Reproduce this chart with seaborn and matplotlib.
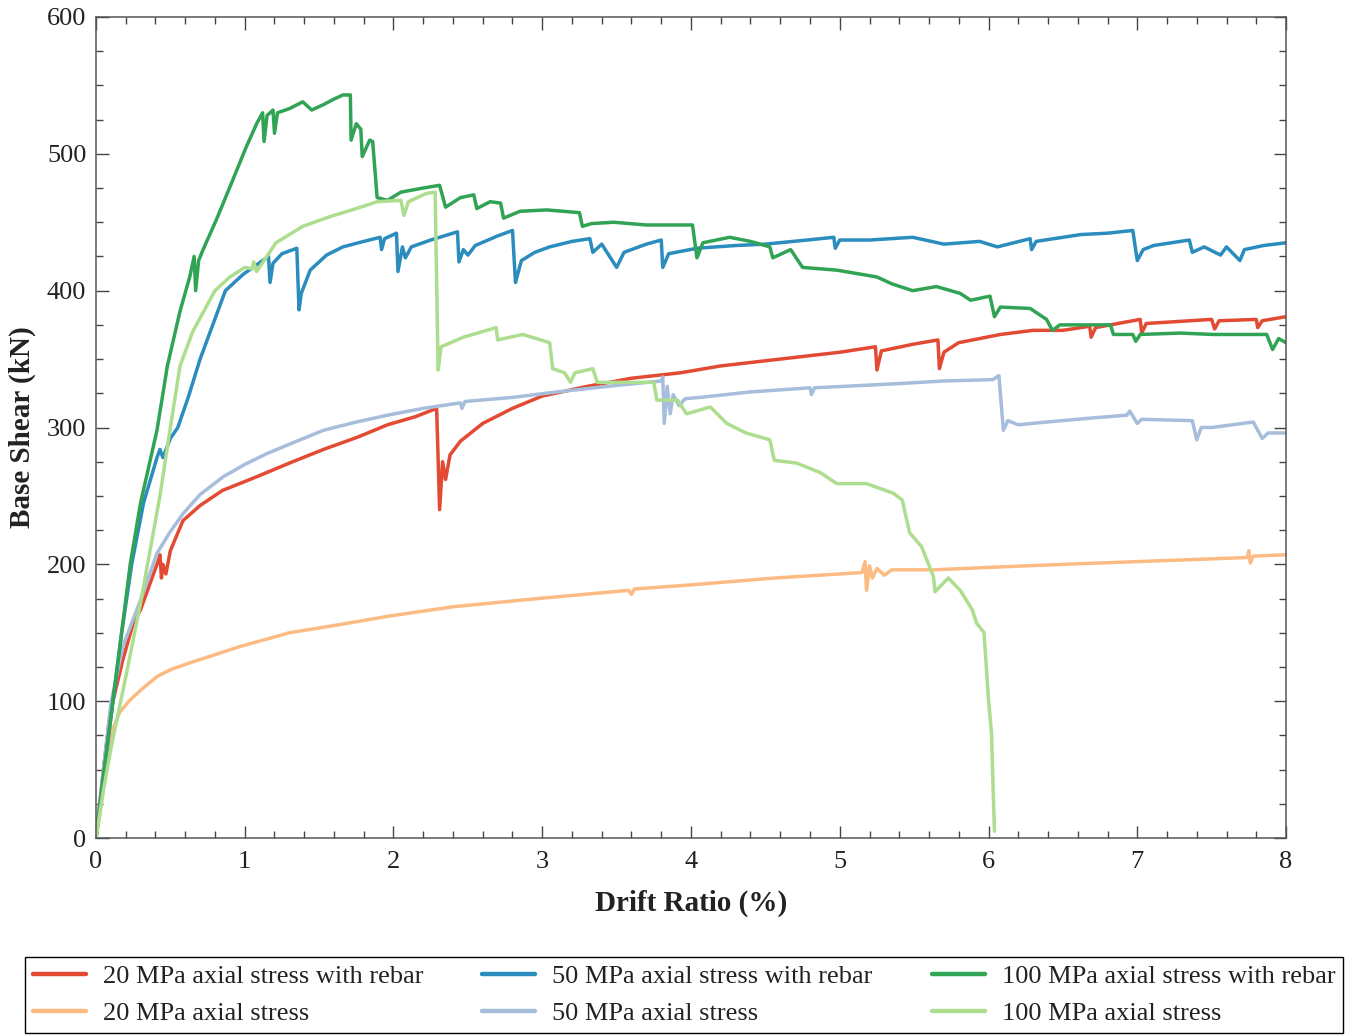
import numpy as np
import pandas as pd
import matplotlib
matplotlib.use("Agg")
import matplotlib.pyplot as plt
import seaborn as sns
from matplotlib.lines import Line2D

# ----------------------------
# Data (drift ratio %, base shear kN)
# ----------------------------
labels = ['20 MPa axial stress with rebar', '20 MPa axial stress',
          '50 MPa axial stress with rebar', '50 MPa axial stress',
          '100 MPa axial stress with rebar', '100 MPa axial stress']
colors = ['#e34a33', '#fdbb84', '#2b8cbe', '#a6bddb', '#31a354', '#addd8e']

drift_20r = [0, 0.05, 0.094, 0.18, 0.25, 0.3, 0.36, 0.42, 0.43, 0.44, 0.45, 0.47, 0.5, 0.585,
             0.7, 0.85, 1.08, 1.3, 1.53, 1.76, 1.96, 2.15, 2.29, 2.31, 2.33, 2.35, 2.38, 2.45,
             2.6, 2.8, 3.0, 3.3, 3.6, 3.93, 4.2, 4.6, 5.0, 5.24, 5.25, 5.28, 5.5, 5.66, 5.67,
             5.7, 5.8, 6.08, 6.3, 6.5, 6.68, 6.69, 6.72, 7.02, 7.03, 7.06, 7.5, 7.52, 7.55,
             7.8, 7.81, 7.84, 8.0]
shear_20r = [0, 50, 91, 130, 157, 167, 185, 203, 207, 190, 200, 193, 210, 232,
             243, 254, 264, 274, 284, 293, 302, 308, 314, 240, 275, 262, 280, 290,
             303, 314, 323, 330, 336, 340, 345, 350, 355, 359, 342, 356, 361, 364, 343,
             355, 362, 368, 371, 371, 374, 366, 373, 379, 369, 376, 379, 372, 378,
             379, 373, 378, 381]

drift_20 = [0, 0.027, 0.06, 0.11, 0.16, 0.23, 0.3, 0.41, 0.5, 0.63, 0.8, 0.97, 1.3, 1.64,
            1.96, 2.4, 2.97, 3.58, 3.6, 3.62, 4.0, 4.56, 5.15, 5.17, 5.18, 5.2, 5.22, 5.25,
            5.3, 5.35, 5.63, 6.05, 6.5, 7.0, 7.5, 7.74, 7.75, 7.76, 7.78, 8.0]
shear_20 = [0, 18, 45, 79, 92, 101, 108, 118, 123, 128, 134, 140, 150, 156,
            162, 169, 175, 181, 178, 182, 185, 190, 194, 202, 181, 199, 190, 197,
            192, 196, 196, 198, 200, 202, 204, 205, 210, 201, 206, 207]

drift_50r = [0, 0.05, 0.1, 0.17, 0.24, 0.32, 0.41, 0.43, 0.45, 0.5, 0.55, 0.62, 0.7, 0.87,
             0.99, 1.16, 1.17, 1.19, 1.25, 1.35, 1.365, 1.38, 1.44, 1.55, 1.66, 1.8, 1.91,
             1.92, 1.94, 2.02, 2.03, 2.06, 2.08, 2.12, 2.25, 2.43, 2.44, 2.47, 2.5, 2.55,
             2.7, 2.8, 2.82, 2.86, 2.95, 3.05, 3.2, 3.32, 3.34, 3.4, 3.5, 3.55, 3.7, 3.8,
             3.81, 3.85, 4.04, 4.3, 4.5, 4.78, 4.96, 4.97, 5.0, 5.2, 5.49, 5.7, 5.94, 6.06,
             6.28, 6.29, 6.32, 6.62, 6.8, 6.97, 7.0, 7.04, 7.11, 7.35, 7.37, 7.45, 7.56,
             7.6, 7.69, 7.72, 7.85, 8.0]
shear_50r = [0, 45, 88, 148, 200, 245, 278, 284, 278, 292, 300, 322, 350, 400,
             412, 425, 406, 420, 427, 431, 386, 398, 415, 426, 432, 436, 439,
             430, 438, 442, 414, 432, 424, 432, 437, 443, 421, 430, 426, 433,
             440, 444, 406, 422, 428, 432, 436, 438, 428, 434, 417, 428, 434, 437,
             417, 427, 431, 433, 434, 437, 439, 431, 437, 437, 439, 434, 436, 432,
             438, 430, 436, 441, 442, 444, 422, 430, 433, 437, 428, 432, 426,
             432, 422, 430, 433, 435]

drift_50 = [0, 0.05, 0.1, 0.18, 0.3, 0.41, 0.5, 0.585, 0.7, 0.855, 1.0, 1.15, 1.35, 1.53,
            1.75, 1.96, 2.2, 2.45, 2.46, 2.48, 2.8, 3.1, 3.52, 3.8, 3.81, 3.82, 3.84, 3.86,
            3.88, 3.92, 3.96, 4.06, 4.4, 4.8, 4.81, 4.83, 5.38, 5.7, 6.03, 6.07, 6.1, 6.13,
            6.2, 6.39, 6.7, 6.93, 6.95, 7.0, 7.03, 7.37, 7.4, 7.43, 7.5, 7.78, 7.84, 7.88, 8.0]
shear_50 = [0, 50, 98, 140, 174, 208, 224, 237, 251, 264, 273, 281, 290, 298,
            304, 309, 314, 318, 314, 319, 322, 326, 331, 334, 337, 303, 330, 310,
            324, 316, 321, 322, 326, 329, 324, 329, 332, 334, 335, 338, 298, 305,
            302, 304, 307, 309, 312, 303, 306, 305, 291, 300, 300, 304, 292, 296, 296]

drift_100r = [0, 0.05, 0.1, 0.17, 0.23, 0.3, 0.41, 0.48, 0.565, 0.63, 0.66, 0.67, 0.69, 0.72,
              0.81, 0.92, 1.01, 1.08, 1.12, 1.13, 1.15, 1.19, 1.2, 1.22, 1.3, 1.39, 1.45,
              1.53, 1.6, 1.66, 1.71, 1.715, 1.75, 1.78, 1.79, 1.84, 1.86, 1.89, 1.96, 2.05,
              2.2, 2.31, 2.35, 2.45, 2.54, 2.56, 2.65, 2.72, 2.74, 2.85, 3.03, 3.25, 3.27,
              3.33, 3.48, 3.7, 4.01, 4.04, 4.08, 4.26, 4.4, 4.53, 4.55, 4.67, 4.75, 4.98,
              5.25, 5.35, 5.49, 5.65, 5.81, 5.88, 6.01, 6.04, 6.08, 6.28, 6.39, 6.43, 6.48,
              6.82, 6.84, 6.97, 6.99, 7.02, 7.29, 7.51, 7.87, 7.91, 7.95, 8.0]
shear_100r = [0, 45, 88, 148, 200, 245, 298, 345, 385, 410, 425, 400, 422, 430,
              452, 481, 505, 522, 530, 509, 528, 532, 515, 530, 533, 538, 532,
              536, 540, 543, 543, 510, 522, 518, 498, 510, 509, 468, 466, 472,
              475, 477, 461, 468, 470, 460, 465, 464, 453, 458, 459, 457, 447,
              449, 450, 448, 448, 424, 435, 439, 436, 432, 424, 430, 417, 415,
              410, 405, 400, 403, 398, 393, 396, 381, 388, 387, 379, 371, 375,
              375, 368, 368, 363, 368, 369, 368, 368, 357, 365, 362]

drift_100 = [0, 0.05, 0.1, 0.21, 0.3, 0.43, 0.5, 0.565, 0.65, 0.8, 0.9, 1.0, 1.05, 1.06, 1.08,
             1.21, 1.39, 1.57, 1.75, 1.89, 2.05, 2.07, 2.1, 2.22, 2.28, 2.3, 2.32, 2.47,
             2.69, 2.7, 2.87, 3.05, 3.07, 3.15, 3.19, 3.22, 3.34, 3.37, 3.59, 3.75, 3.77,
             3.91, 3.97, 4.13, 4.24, 4.37, 4.53, 4.56, 4.71, 4.87, 4.98, 5.18, 5.36, 5.42,
             5.47, 5.55, 5.63, 5.64, 5.73, 5.81, 5.89, 5.92, 5.97, 6.0, 6.02, 6.03, 6.04]
shear_100 = [0, 35, 65, 123, 172, 250, 300, 345, 370, 400, 410, 417, 416, 421, 414,
             435, 447, 454, 460, 465, 466, 455, 465, 471, 472, 342, 359, 366,
             373, 364, 368, 362, 343, 340, 333, 340, 343, 333, 333, 333, 320,
             320, 310, 315, 303, 296, 291, 276, 274, 267, 259, 259, 252, 247,
             223, 213, 191, 180, 190, 181, 167, 157, 150, 101, 77, 40, 5]

drifts = [drift_20r, drift_20, drift_50r, drift_50, drift_100r, drift_100]
shears = [shear_20r, shear_20, shear_50r, shear_50, shear_100r, shear_100]

# ----------------------------
# Plot
# ----------------------------
sns.set_style("ticks")
plt.rcParams['font.family'] = ['Liberation Serif', 'DejaVu Serif']

fig = plt.figure(figsize=(13.5, 10.35), dpi=100)
ax = fig.add_axes([0.0711, 0.1903, 0.8815, 0.7933])

draw_order = [0, 1, 3, 2, 4, 5]
for i in draw_order:
    df = pd.DataFrame({'drift': drifts[i], 'shear': shears[i]})
    sns.lineplot(data=df, x='drift', y='shear', ax=ax, sort=False, estimator=None,
                 color=colors[i], lw=2.5, legend=False)

ax.set_xlim(0, 8)
ax.set_ylim(0, 600)
ax.set_xticks(range(0, 9))
ax.set_yticks(range(0, 601, 100))
ax.set_xticks(np.arange(0, 8.01, 0.2), minor=True)
ax.set_yticks(np.arange(0, 601, 25), minor=True)
ax.tick_params(which='both', direction='in', top=True, right=True, color='#444444',
               labelsize=19, labelcolor='#222222')
ax.tick_params(which='major', length=9, width=1.0)
ax.tick_params(which='minor', length=5, width=1.0)
ax.tick_params(axis='x', pad=9)
ax.tick_params(axis='y', pad=7)
for sp in ax.spines.values():
    sp.set_color('#555555')
    sp.set_linewidth(1.1)

ax.set_xlabel('Drift Ratio (%)', fontsize=21, fontweight='bold', color='#222222', labelpad=12)
ax.set_ylabel('Base Shear (kN)', fontsize=21, fontweight='bold', color='#222222', labelpad=8)

leg_handles = [Line2D([], [], color=c, lw=3.2) for c in colors]
leg = fig.legend(leg_handles, labels, loc='lower left', ncol=3, mode='expand',
                 bbox_to_anchor=(0.0185, 0.002, 0.9765, 0.078), borderaxespad=0,
                 fontsize=19, frameon=True, fancybox=False, edgecolor='black',
                 framealpha=1, handlelength=2.0, handletextpad=0.65,
                 labelspacing=0.5, borderpad=0.3, columnspacing=1.0)
leg.get_frame().set_linewidth(1.0)
for t in leg.get_texts():
    t.set_color('#222222')

fig.savefig('out.png', dpi=100)
